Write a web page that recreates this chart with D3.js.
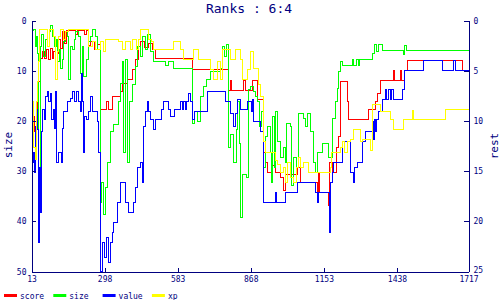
<!DOCTYPE html>
<html><head><meta charset="utf-8">
<script src="https://cdn.jsdelivr.net/npm/d3@7"></script>
<style>body{margin:0;background:#fff}svg{display:block}</style>
</head><body>
<svg id="c" width="500" height="300"></svg>
<script>
const title = "Ranks : 6:4";
const xTicks = [13, 298, 583, 868, 1153, 1438, 1717];
const leftTicks = [0, 10, 20, 30, 40, 50];
const rightTicks = [0, 5, 10, 15, 20, 25];
const seriesNames = ["score", "size", "value", "xp"];

const score = [[13,9.6],[25,11.1],[33,8.1],[36,10.6],[40,6.1],[48,3.8],[56,3.1],[64,3.8],[72,2.9],[79,3.9],[87,2.8],[95,3.8],[99,3.1],[107,2.1],[114,3.3],[118,1.9],[126,2.8],[134,1.1],[142,2.3],[150,1],[185,1.4],[192,1],[220,1.4],[228,1],[235,2.5],[243,2.1],[259,2.9],[270,2.4],[282,8.9],[306,8.1],[313,8.9],[329,7.6],[360,7.1],[368,6.3],[387,5.9],[407,4.9],[419,3.9],[430,2.6],[438,2.1],[454,2.7],[469,2.3],[485,2.9],[497,3.8],[641,4.9],[781,7],[789,6],[793,7],[840,6],[848,7],[875,6],[894,7.9],[918,13.1],[926,14.1],[933,15.1],[953,14.4],[965,15.1],[984,15.6],[996,16.9],[1004,15.3],[1050,14.6],[1062,16.1],[1128,17.1],[1132,15.1],[1136,17.1],[1171,18.4],[1175,14.1],[1187,15.1],[1203,12.6],[1210,11.6],[1218,6.1],[1245,8.1],[1249,9.9],[1327,8.9],[1355,8.1],[1362,7.3],[1374,6],[1425,5],[1429,6],[1452,5],[1456,6],[1468,5],[1479,4],[1694,5]];

const size = [[13,1],[21,0.9],[29,2.6],[33,1.6],[36,3.3],[40,19.1],[44,16.1],[48,2.6],[52,1.4],[60,3.6],[68,1.9],[75,2.6],[83,1.1],[87,0.5],[95,1.6],[103,2.6],[111,1.9],[114,4.1],[122,2.9],[126,4.8],[134,3.9],[138,2.1],[146,1.1],[153,1.6],[157,5.9],[165,2.6],[173,2.9],[181,1.9],[185,1.1],[196,1.6],[204,5.3],[212,2.6],[216,5.6],[228,3.9],[235,2.1],[243,1.6],[251,0.9],[263,1.6],[270,2.9],[282,18.1],[286,16.1],[294,19.3],[302,16.6],[309,14.1],[321,11.1],[333,10.4],[352,8.1],[360,6.3],[368,4.1],[372,13.1],[380,3.9],[387,14.1],[395,8.1],[407,6.4],[419,4.6],[426,2.6],[438,3.6],[446,1.6],[458,2.9],[465,1.4],[477,3.1],[489,4.1],[536,4.5],[547,4.1],[567,4.8],[641,10.3],[649,9.1],[660,10.1],[672,7.6],[684,6.6],[696,5.9],[711,5.1],[750,4.8],[758,2.6],[766,3.6],[774,2.4],[781,12.6],[789,11.4],[801,14.1],[813,10.9],[816,8.1],[824,12.3],[828,19.6],[836,15.3],[852,15.6],[859,6.9],[867,6.6],[879,7.1],[887,7.6],[894,8.1],[902,10.6],[910,9.1],[918,14.6],[926,11.6],[933,10.6],[945,13.1],[949,16.1],[953,9.6],[961,14.6],[965,9.1],[972,12.1],[984,13.6],[996,12.6],[1004,14.1],[1008,10.3],[1023,10.6],[1027,16.4],[1035,13.6],[1047,14.6],[1054,9.3],[1074,9.8],[1082,10.6],[1089,9.3],[1101,11.1],[1113,14.1],[1121,15.1],[1128,13.1],[1148,12.3],[1171,13.6],[1187,9.8],[1199,8.1],[1206,6.8],[1210,5.1],[1218,4.1],[1226,4.5],[1265,3.9],[1269,4.5],[1280,3.9],[1288,4.5],[1292,3.9],[1343,3.3],[1351,2.4],[1359,3.1],[1366,2.4],[1382,3],[1464,3.4],[1468,2.5],[1476,3]];

const value = [[13,12.1],[17,14.1],[21,13.1],[25,15.1],[29,10.6],[33,8.9],[36,10.9],[40,22.1],[44,14.6],[48,19.1],[52,11.1],[56,8.9],[64,9.9],[68,7.6],[75,7.1],[79,8.1],[87,7.3],[91,9.9],[99,8.9],[103,10.8],[107,7.1],[111,14.1],[118,13.1],[130,14.1],[134,10.8],[138,9.1],[153,8.1],[165,7.8],[173,7.1],[181,8.1],[189,7.1],[196,8.1],[204,9.1],[208,5.3],[212,8.1],[216,13.1],[220,9.6],[228,9.9],[235,9.1],[243,7.6],[251,9.1],[270,10.1],[274,13.1],[282,25],[290,22.1],[298,23.6],[306,21.6],[313,24.1],[321,22.1],[329,21.1],[333,20.1],[348,18.1],[360,16.1],[380,18.1],[391,19.1],[411,18.1],[419,16.6],[426,14.6],[438,14.1],[446,16.1],[450,10.6],[458,9.1],[465,8.1],[469,9.1],[477,9.9],[489,10.9],[497,9.9],[520,8.9],[528,8.1],[547,8.9],[555,9.6],[571,8.9],[594,8.1],[602,8.9],[606,8.1],[614,8.9],[618,8.1],[625,7.3],[633,8.1],[641,9.9],[649,9.1],[699,7.1],[770,8.1],[789,9.3],[801,10.6],[809,9.3],[816,7.9],[828,8.9],[855,8.1],[871,9.1],[875,7.9],[879,10.1],[906,11.1],[918,18.1],[965,17.1],[969,18.1],[1004,17.1],[1050,16.1],[1121,17.1],[1128,18.1],[1132,17.1],[1175,21.1],[1179,16.1],[1187,15.1],[1191,14.1],[1226,12.1],[1257,15.1],[1269,16.1],[1273,14.6],[1284,14.1],[1304,12.1],[1316,11.1],[1343,10.1],[1347,11.9],[1351,9.9],[1355,11.1],[1359,9.9],[1366,9.1],[1382,7.9],[1394,6.9],[1398,7.9],[1405,6.9],[1413,7.9],[1417,6.9],[1425,7.9],[1460,6.9],[1468,5],[1542,4],[1616,5],[1659,4],[1667,5]];

const xp = [[13,7.1],[17,8.1],[21,12.6],[29,13.8],[33,8.1],[36,6.1],[40,4.1],[44,0.9],[75,2.6],[83,0.9],[99,1.6],[107,5.9],[114,3.1],[118,1.6],[126,0.9],[138,1.9],[146,1.1],[157,0.9],[235,2.6],[251,2.1],[263,2.9],[282,2.1],[294,3.1],[302,1.9],[352,2.1],[368,2.9],[380,2.1],[399,2.9],[407,1.9],[423,2.9],[430,1.9],[438,0.9],[469,1.9],[481,2.1],[489,2.9],[567,2.1],[594,2.9],[606,3.9],[645,2.9],[664,3.9],[711,4.9],[723,5.9],[738,4.1],[750,5.9],[758,2.9],[789,3.9],[809,2.9],[828,3.9],[836,5.9],[855,4.9],[867,3.1],[879,4.8],[898,6.4],[906,7.6],[918,12.1],[926,13.1],[965,13.9],[972,14.3],[984,15.1],[996,14.6],[1004,16.1],[1012,14.1],[1023,15.6],[1035,16.1],[1047,14.6],[1054,13.6],[1062,14.6],[1074,14.1],[1093,15.1],[1179,14.6],[1183,13.1],[1218,12.6],[1226,12.1],[1234,13.1],[1245,12.1],[1257,11.9],[1269,10.9],[1296,12.1],[1304,11.9],[1335,12.9],[1343,8.4],[1374,9.1],[1413,9.9],[1425,10.9],[1464,9.9],[1499,9],[1503,9.9],[1628,8.9]];

const seriesData = [score, size, value, xp];
const colors = ["#ff0000", "#00ff00", "#0000ff", "#ffff00"];
const navy = "#000080";
const mono = "'DejaVu Sans Mono', monospace";

const svg = d3.select("#c");
const x = d3.scaleLinear().domain([13, 1717]).range([31, 468]);
const yL = d3.scaleLinear().domain([0, 50]).range([20, 271]);
const yR = d3.scaleLinear().domain([0, 25]).range([20, 271]);

// series
const line = d3.line().curve(d3.curveStepAfter)
  .x(d => Math.round(x(d[0])) + 0.5)
  .y(d => Math.round(yR(d[1])) + 0.5);
seriesData.forEach((s, i) => {
  const pts = s.concat([[1717, s[s.length - 1][1]]]);
  svg.append("path").datum(pts)
    .attr("d", line).attr("fill", "none")
    .attr("stroke", colors[i]).attr("stroke-width", 1)
    .attr("shape-rendering", "crispEdges");
});

function styleAxis(g) {
  g.selectAll("path.domain").attr("stroke", navy).attr("shape-rendering", "crispEdges");
  g.selectAll(".tick line").attr("stroke", navy).attr("shape-rendering", "crispEdges");
  g.selectAll(".tick text").attr("fill", navy).attr("font-family", mono).attr("font-size", 8);
}

svg.append("g").attr("transform", "translate(31.5,0.5)")
  .call(d3.axisLeft(yL).tickValues(leftTicks).tickFormat(d3.format("d")).tickSize(-4).tickSizeOuter(0).tickPadding(5))
  .call(styleAxis);
const rAxis = svg.append("g").attr("transform", "translate(468.5,0.5)")
  .call(d3.axisRight(yR).tickValues(rightTicks).tickFormat(d3.format("d")).tickSize(-5).tickSizeOuter(0).tickPadding(5))
  .call(styleAxis);
// lift the bottom-most right label slightly so it clears the x labels
rAxis.selectAll(".tick text").filter(d => d === 25).attr("dy", "0.1em");
svg.append("g").attr("transform", "translate(0.5,271.5)")
  .call(d3.axisBottom(x).tickValues(xTicks).tickFormat(d3.format("d")).tickSize(-4).tickSizeOuter(0).tickPadding(5))
  .call(styleAxis);

// title
svg.append("text").attr("x", 249).attr("y", 13).attr("text-anchor", "middle")
  .attr("fill", navy).attr("font-family", mono).attr("font-size", 13).text(title);

// axis titles
svg.append("text").attr("transform", "translate(12,145) rotate(-90)")
  .attr("text-anchor", "middle").attr("fill", navy).attr("font-family", mono)
  .attr("font-size", 11).text("size");
svg.append("text").attr("transform", "translate(498,146) rotate(-90)")
  .attr("text-anchor", "middle").attr("fill", navy).attr("font-family", mono)
  .attr("font-size", 11).text("rest");

// legend
const lg = svg.append("g").selectAll("g").data(seriesNames).join("g")
  .attr("transform", (d, i) => `translate(${4 + i * 49.3},0)`);
lg.append("line").attr("x1", 0).attr("x2", 13).attr("y1", 295.5).attr("y2", 295.5)
  .attr("stroke", (d, i) => colors[i]).attr("stroke-width", 3);
lg.append("text").attr("x", 16).attr("y", 298.5).attr("fill", navy)
  .attr("font-family", mono).attr("font-size", 8).text(d => d);
</script>
</body></html>
